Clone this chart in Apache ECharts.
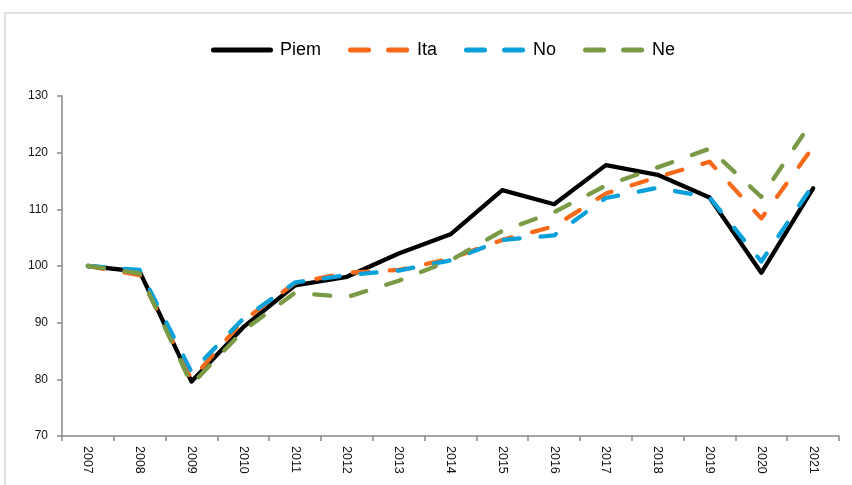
<!DOCTYPE html>
<html>
<head>
<meta charset="utf-8">
<script src="https://cdn.jsdelivr.net/npm/echarts@6/dist/echarts.min.js"></script>
<style>html,body{margin:0;padding:0;background:#fff;}#c{width:852px;height:485px;}</style>
</head>
<body>
<div id="c"></div>
<script>
const years = ['2007','2008','2009','2010','2011','2012','2013','2014','2015','2016','2017','2018','2019','2020','2021'];
const piem = [100, 99.0, 79.6, 89.2, 96.6, 98.1, 102.2, 105.6, 113.4, 110.9, 117.8, 116.1, 112.1, 98.8, 113.7];
const ita  = [100, 98.4, 80.0, 90.4, 97.0, 98.8, 99.3, 101.3, 104.6, 107.0, 112.8, 115.7, 118.4, 108.4, 121.0];
const no   = [100, 99.3, 81.3, 90.7, 97.1, 98.4, 99.2, 101.0, 104.6, 105.4, 112.0, 113.8, 112.1, 100.8, 114.3];
const ne   = [100, 98.7, 79.1, 88.6, 95.3, 94.5, 97.4, 101.0, 106.2, 109.5, 114.2, 117.4, 120.7, 112.2, 125.8];
const yTicks = {min: 70, max: 130, interval: 10};

const dash = [16, 21];
function mk(name, data, color, dashed) {
  return {
    name, type: 'line', data, symbol: 'none', smooth: false,
    lineStyle: {color, width: 4.3, type: dashed ? dash : 'solid', cap: 'round', join: 'round'},
    itemStyle: {color},
    emphasis: {disabled: true}
  };
}
// legend icons (62 x 5 units): solid bar or two rounded dashes
const solidIcon = 'path://M2.5,0 H59.5 A2.5,2.5 0 0 1 59.5,5 H2.5 A2.5,2.5 0 0 1 2.5,0 Z';
const dashIcon = 'path://M2.5,0 H20.5 A2.5,2.5 0 0 1 20.5,5 H2.5 A2.5,2.5 0 0 1 2.5,0 Z M40.5,0 H58.5 A2.5,2.5 0 0 1 58.5,5 H40.5 A2.5,2.5 0 0 1 40.5,0 Z M61.9,2.5 A0.1,0.1 0 0 1 61.9,2.6 Z';

const chart = echarts.init(document.getElementById('c'), null, {renderer: 'canvas'});
chart.setOption({
  animation: false,
  backgroundColor: '#fff',
  graphic: [{type: 'rect', shape: {x: 5, y: 13, width: 900, height: 520}, style: {fill: 'none', stroke: '#d9d9d9', lineWidth: 1.5}, silent: true}],
  legend: {
    top: 36, left: 206, itemWidth: 62, itemHeight: 5, itemGap: 27, symbolKeepAspect: false,
    textStyle: {fontFamily: 'Liberation Sans Narrow, Arial Narrow, sans-serif', fontSize: 18, color: '#000', padding: [0,0,0,2]},
    data: [
      {name: 'Piem', icon: solidIcon, itemStyle: {color: '#000'}},
      {name: 'Ita', icon: dashIcon},
      {name: 'No', icon: dashIcon},
      {name: 'Ne', icon: dashIcon}
    ]
  },
  grid: {left: 62, right: 13, top: 96, bottom: 49, containLabel: false},
  xAxis: {
    type: 'category', data: years, boundaryGap: true,
    axisLine: {lineStyle: {color: '#898989', width: 1.5}},
    axisTick: {show: true, length: 5, lineStyle: {color: '#898989', width: 1.5}},
    axisLabel: {rotate: -90, color: '#111', fontFamily: 'Liberation Sans, Arial, sans-serif', fontSize: 12.5, margin: 10}
  },
  yAxis: {
    type: 'value', min: yTicks.min, max: yTicks.max, interval: yTicks.interval,
    axisLine: {show: true, lineStyle: {color: '#898989', width: 1.5}},
    axisTick: {show: true, length: 5, lineStyle: {color: '#898989', width: 1.5}},
    splitLine: {show: false},
    axisLabel: {color: '#111', fontFamily: 'Liberation Sans, Arial, sans-serif', fontSize: 12, margin: 14}
  },
  series: [
    mk('Piem', piem, '#000000', false),
    mk('Ita', ita, '#F86A1A', true),
    mk('No', no, '#0AA1DB', true),
    mk('Ne', ne, '#7A9A46', true)
  ]
});
</script>
</body>
</html>
